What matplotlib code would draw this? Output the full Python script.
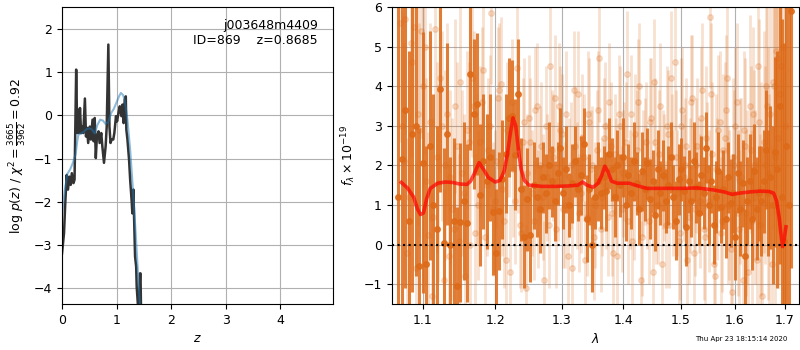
import numpy as np
import matplotlib
matplotlib.use("Agg")
import matplotlib.pyplot as plt
from matplotlib.ticker import FixedLocator, NullLocator, FixedFormatter

plt.rcParams['font.size'] = 9

# --- p(z) panel ---
z_chi = [0.0, 0.037, 0.06, 0.086, 0.11, 0.135, 0.16, 0.18, 0.21, 0.23, 0.26, 0.28, 0.29, 0.31,
         0.33, 0.35, 0.37, 0.39, 0.42, 0.44, 0.46, 0.48, 0.51, 0.53, 0.56, 0.58, 0.60, 0.62,
         0.64, 0.67, 0.69, 0.72, 0.74, 0.77, 0.80, 0.82, 0.85, 0.87, 0.89, 0.91, 0.94, 0.96,
         0.99, 1.01, 1.04, 1.06, 1.09, 1.11, 1.13, 1.15, 1.17, 1.18, 1.20, 1.23, 1.25, 1.28,
         1.29, 1.31, 1.32, 1.34, 1.36, 1.37, 1.39, 1.41, 1.43, 1.44, 1.45]
logp_chi = [-3.2, -2.73, -2.03, -1.38, -1.72, -1.42, -1.61, -1.34, -1.57, -1.49, 1.06, -0.41, 0.13, -0.41,
            0.17, -0.41, -0.26, -0.41, 0.39, -0.49, -0.29, -0.64, -0.26, -0.56, -0.10, -0.60, -0.06, -0.99,
            -0.49, -0.37, -0.64, -0.41, -0.72, -1.10, -0.72, -0.26, 1.64, -0.26, -0.64, -0.56, -0.56, -0.41,
            -0.02, -0.14, 0.09, 0.21, -0.02, 0.25, -0.18, 0.36, 0.44, -0.33, -0.56, -1.03, -1.49, -2.03,
            -2.27, -1.72, -2.27, -3.27, -3.5, -3.97, -4.35, -4.6, -3.66, -3.66, -4.6]

z_smooth = [0.0, 0.05, 0.10, 0.15, 0.20, 0.25, 0.28, 0.30, 0.35, 0.40, 0.45, 0.50, 0.55, 0.60,
            0.65, 0.70, 0.75, 0.80, 0.85, 0.90, 0.95, 1.00, 1.05, 1.08, 1.12, 1.15, 1.20, 1.25,
            1.30, 1.35, 1.40, 1.43]
logp_smooth = [-2.3, -1.75, -1.35, -1.25, -1.1, -0.9, -0.6, -0.45, -0.42, -0.38, -0.32, -0.3, -0.33, -0.42,
               -0.22, -0.1, -0.12, -0.2, -0.15, 0.05, 0.15, 0.3, 0.45, 0.52, 0.47, 0.35, -0.1, -0.8,
               -1.7, -2.7, -3.8, -4.4]

# --- spectrum panel ---
wave0_dark, dwave_dark = 1.068, 0.0046
flux_dark = [1.2, 2.15, 3.4, 0.6, 2.8, 3.0, -0.55, 2.07, -0.5, 2.5,
             1.0, 0.4, 3.93, 0.05, 2.8, 0.0, 0.6, -1.05, 0.56, 1.1,
             0.55, 4.3, 3.3, 3.55, 1.25, 2.1, 1.6, 2.2, 0.82, -0.2,
             0.85, 1.65, 2.3, 3.2, 3.25, 2.27, 3.8, 1.4, 0.2, 1.15,
             0.25, 1.5, 1.2, 0.9, 1.7, 1.3, 2.0, 1.6, 1.1, 1.8,
             2.45, 1.3, 1.9, 1.0, 1.55, 2.1, 1.4, 1.75, 2.55, 0.65,
             1.4, 0.0, 1.2, 1.6, 1.3, 1.7, 1.35, 2.3, 1.9, 1.2,
             2.0, 1.5, 2.2, 1.0, 1.75, 1.3, 2.1, 1.55, 0.9, 1.85,
             1.4, 2.05, 1.15, 1.6, 0.75, 1.9, 1.3, 1.75, 1.1, 1.5,
             2.2, 1.2, 0.6, 1.65, 1.9, 1.35, 0.45, 1.6, 1.1, 2.1,
             1.45, 0.8, 1.75, 1.3, 2.45, 1.0, 1.6, 0.5, 1.2, 1.85,
             0.95, 1.4, 0.65, 1.7, 1.05, 1.3, 0.2, 1.8, 0.9, 1.55,
             -0.3, 1.1, 1.6, 0.65, 1.85, 0.9, 1.3, 1.1, 1.6, 2.4,
             1.3, 1.7, 1.0, 2.35, 1.9, 3.5, 1.2, 0.1, 2.5, 1.0,
             5.9]
err_dark = [5.0, 4.8, 4.5, 4.3, 4.0, 3.8, 3.5, 3.3, 3.0, 2.9,
            2.8, 2.6, 2.6, 2.4, 2.3, 2.2, 2.1, 2.0, 2.0, 2.0,
            2.0, 1.9, 1.9, 1.8, 1.8, 1.7, 1.7, 1.6, 1.6, 1.6,
            1.5, 1.5, 1.5, 1.5, 1.4, 1.4, 1.4, 1.3, 1.3, 1.3,
            1.2, 1.1, 1.0, 1.1, 0.9, 1.0, 1.1, 0.9, 1.0, 0.8,
            1.0, 0.9, 1.1, 0.8, 1.0, 0.9, 0.8, 1.0, 0.9, 1.1,
            0.9, 1.2, 0.8, 1.0, 0.9, 0.8, 1.0, 0.9, 0.8, 1.0,
            0.9, 0.8, 1.0, 0.9, 0.8, 0.9, 1.0, 0.8, 0.9, 1.0,
            0.8, 0.9, 1.0, 0.8, 0.9, 1.0, 0.8, 0.9, 0.8, 1.0,
            0.9, 0.8, 1.0, 0.9, 0.8, 0.9, 1.0, 0.8, 0.9, 1.0,
            0.9, 0.8, 1.0, 0.9, 0.9, 1.0, 0.8, 1.0, 0.9, 1.0,
            0.9, 1.0, 1.0, 0.9, 1.1, 1.0, 1.1, 1.0, 1.2, 1.1,
            1.2, 1.1, 1.2, 1.3, 1.2, 1.3, 1.2, 1.4, 1.3, 1.5,
            1.6, 1.8, 2.0, 2.4, 3.0, 4.0, 4.5, 5.0, 5.5, 6.0,
            6.5]

# unbinned points, first orientation
wave0_light, dwave_light = 1.0703, 0.0046
flux_light = [5.6, 2.1, -0.2, 5.1, 5.5, 3.3, 5.4, 5.0, 0.25, -1.3,
              5.45, 1.55, 3.0, 2.0, -0.3, 0.9, 3.5, 0.1, 1.8, -0.8,
              2.6, 4.2, 0.3, 1.0, 3.6, 0.2, 2.4, 5.85, 1.1, 3.7,
              4.05, 0.6, 2.9, -0.7, 1.9, 4.45, 0.5, 2.6, -1.1, 3.2,
              1.3, 3.4, 0.9, 2.5, -0.9, 1.7, 4.5, 2.2, 0.4, 3.5,
              2.8, 1.0, -0.3, 2.0, 3.9, 1.5, 0.8, 2.7, -0.4, 3.3,
              1.9, 0.2, 2.4, 4.7, 1.2, 3.0, 0.7, 2.5, -0.2, 1.6,
              3.3, 0.9, 2.1, 4.3, 1.4, 0.1, 2.8, 3.6, -0.9, 1.8,
              2.6, 0.6, 3.2, 4.1, 1.0, 2.3, -0.5, 1.7, 3.0, 0.5,
              2.2, 4.6, 1.3, 0.3, 3.4, 2.0, -0.4, 1.5, 3.7, 0.9,
              2.5, 1.1, 3.9, 0.2, 1.9, 5.75, 2.3, -0.8, 1.4, 3.1,
              0.6, 2.7, 4.2, 1.0, -1.2, 2.0, 3.6, 0.4, 1.7, 2.9,
              0.8, -0.7, 2.4, 3.3, 1.2, 4.5, 0.5, -1.3, 2.0, 3.5,
              1.0, -0.5, 4.0, 4.9, 2.7, 4.5, 5.0, 3.0, 6.1]
err_light = [3.0, 3.0, 2.9, 2.9, 2.8, 2.8, 2.7, 2.7, 2.6, 2.6,
             2.5, 2.5, 2.4, 2.4, 2.3, 2.3, 2.2, 2.2, 2.1, 2.1,
             2.0, 2.0, 2.0, 1.9, 1.9, 1.9, 1.8, 1.8, 1.8, 1.8,
             1.7, 1.7, 1.7, 1.7, 1.7, 1.6, 1.6, 1.6, 1.6, 1.6,
             1.6, 1.6, 1.5, 1.6, 1.5, 1.6, 1.5, 1.6, 1.5, 1.6,
             1.5, 1.6, 1.5, 1.6, 1.5, 1.6, 1.5, 1.6, 1.5, 1.6,
             1.5, 1.6, 1.5, 1.6, 1.5, 1.6, 1.5, 1.6, 1.5, 1.6,
             1.5, 1.6, 1.5, 1.6, 1.5, 1.6, 1.5, 1.6, 1.5, 1.6,
             1.5, 1.6, 1.5, 1.6, 1.5, 1.6, 1.5, 1.6, 1.5, 1.6,
             1.6, 1.7, 1.6, 1.7, 1.6, 1.7, 1.6, 1.7, 1.6, 1.7,
             1.7, 1.7, 1.7, 1.7, 1.7, 1.8, 1.8, 1.8, 1.8, 1.8,
             1.8, 1.9, 1.9, 1.9, 1.9, 1.9, 2.0, 2.0, 2.0, 2.0,
             2.1, 2.1, 2.1, 2.2, 2.2, 2.3, 2.3, 2.4, 2.5, 2.6,
             2.8, 3.0, 3.2, 3.5, 3.8, 4.2, 4.6, 5.0, 5.5]

# unbinned points, second orientation
wave0_light2, dwave_light2 = 1.0726, 0.0046
flux_light2 = [3.0, 5.7, 1.2, 4.6, -0.6, 2.9, 4.0, 1.6, 3.1, 0.7,
               2.2, 4.2, -0.9, 3.3, 1.7, 0.4, 2.5, 4.1, 1.3, 2.9,
               0.0, 3.5, 1.9, 2.6, 4.4, 1.5, 3.0, 0.9, 2.1, 3.9,
               1.4, -0.4, 2.8, 3.6, 1.1, 2.4, 0.3, 3.1, 1.8, 2.6,
               0.6, 3.5, 2.0, 1.2, 3.0, 0.5, 2.4, 3.7, 1.6, 2.9,
               0.9, 3.3, 1.7, -0.6, 2.5, 3.8, 1.3, 2.2, 0.7, 3.1,
               2.0, 1.0, 3.4, 0.4, 2.7, 1.5, 3.6, 0.8, 2.3, -0.3,
               3.0, 1.8, 2.6, 0.6, 3.3, 1.2, 2.4, 4.0, 0.2, 2.1,
               1.4, 3.1, -0.7, 2.6, 1.0, 3.5, 1.9, 0.5, 2.8, 4.2,
               1.3, 2.2, 0.1, 3.0, 1.7, 2.5, 0.7, 3.6, -0.2, 2.0,
               1.5, 3.2, 0.4, 2.7, 1.1, 3.8, -0.5, 1.9, 2.9, 0.3,
               2.4, 3.4, 1.0, -0.1, 2.2, 3.0, 0.8, 1.6, -0.9, 2.5,
               1.2, 3.5, 0.6, 2.0, -0.4, 3.1, 1.4, 2.6, 4.0, 1.8,
               3.3, 4.1, 2.2, 4.7, 3.8]
err_light2 = [2.9, 2.9, 2.8, 2.8, 2.7, 2.7, 2.6, 2.6, 2.5, 2.5,
              2.4, 2.4, 2.3, 2.3, 2.2, 2.2, 2.1, 2.1, 2.0, 2.0,
              2.0, 1.9, 1.9, 1.9, 1.8, 1.8, 1.8, 1.7, 1.7, 1.7,
              1.7, 1.6, 1.6, 1.6, 1.6, 1.6, 1.5, 1.6, 1.5, 1.6,
              1.5, 1.6, 1.5, 1.6, 1.5, 1.6, 1.5, 1.6, 1.5, 1.6,
              1.5, 1.6, 1.5, 1.6, 1.5, 1.6, 1.5, 1.6, 1.5, 1.6,
              1.5, 1.6, 1.5, 1.6, 1.5, 1.6, 1.5, 1.6, 1.5, 1.6,
              1.5, 1.6, 1.5, 1.6, 1.5, 1.6, 1.5, 1.6, 1.5, 1.6,
              1.5, 1.6, 1.5, 1.6, 1.5, 1.6, 1.5, 1.6, 1.6, 1.7,
              1.6, 1.7, 1.6, 1.7, 1.6, 1.7, 1.7, 1.7, 1.7, 1.7,
              1.7, 1.8, 1.8, 1.8, 1.8, 1.8, 1.8, 1.9, 1.9, 1.9,
              1.9, 1.9, 2.0, 2.0, 2.0, 2.0, 2.1, 2.1, 2.1, 2.2,
              2.2, 2.3, 2.3, 2.4, 2.5, 2.6, 2.7, 2.8, 3.0, 3.2,
              3.4, 3.7, 4.0, 4.4, 4.8]

wave_model = [1.072, 1.08, 1.088, 1.093, 1.097, 1.101, 1.105, 1.11, 1.12, 1.13, 1.14, 1.15, 1.16,
              1.165, 1.17, 1.177, 1.184, 1.19, 1.2, 1.207, 1.213, 1.218, 1.222, 1.226, 1.23,
              1.234, 1.238, 1.243, 1.25, 1.27, 1.29, 1.31, 1.325, 1.333, 1.34, 1.35, 1.358,
              1.364, 1.369, 1.374, 1.38, 1.39, 1.41, 1.42, 1.44, 1.47, 1.50, 1.53, 1.56,
              1.58, 1.595, 1.61, 1.63, 1.65, 1.668, 1.677, 1.683, 1.688, 1.692, 1.695,
              1.698, 1.702]
flux_model = [1.57, 1.43, 1.2, 0.9, 0.76, 0.8, 1.15, 1.42, 1.55, 1.58, 1.57, 1.53, 1.52,
              1.6, 1.78, 2.07, 1.88, 1.7, 1.58, 1.62, 1.85, 2.3, 2.8, 3.2, 3.0,
              2.4, 1.9, 1.62, 1.5, 1.47, 1.47, 1.48, 1.5, 1.58, 1.5, 1.45, 1.55,
              1.75, 1.98, 1.85, 1.6, 1.55, 1.55, 1.5, 1.42, 1.42, 1.42, 1.43, 1.38,
              1.33, 1.27, 1.3, 1.33, 1.35, 1.34, 1.3, 1.1, 0.7, 0.25, -0.05,
              0.1, 0.45]

orange = '#dd6a18'

fig = plt.figure(figsize=(8, 3.5), dpi=100)
ax1 = fig.add_axes([62 / 800, 46 / 350, 271 / 800, 297 / 350])
ax2 = fig.add_axes([391.7 / 800, 46 / 350, 407.6 / 800, 297 / 350])

ax1.plot(z_chi, logp_chi, color='0.2', linewidth=1.8)
ax1.plot(z_smooth, logp_smooth, color='#1f77b4', alpha=0.5, linewidth=1.5)
ax1.set_xlim(0, 4.97)
ax1.set_ylim(-4.37, 2.51)
ax1.set_xticks([0, 1, 2, 3, 4])
ax1.set_yticks([-4, -3, -2, -1, 0, 1, 2])
ax1.grid(True)
ax1.set_xlabel(r'$z$')
ax1.set_ylabel(r'log $p(z)$ / $\chi^2=\frac{3665}{3962}=0.92$')
ax1.text(0.945, 0.96, 'j003648m4409\nID=869    z=0.8685', transform=ax1.transAxes,
         ha='right', va='top', fontsize=9)

wave_dark = wave0_dark + dwave_dark * np.arange(len(flux_dark))
wave_light = wave0_light + dwave_light * np.arange(len(flux_light))
wave_light2 = wave0_light2 + dwave_light2 * np.arange(len(flux_light2))

for w, f, e in [(wave_light, flux_light, err_light), (wave_light2, flux_light2, err_light2)]:
    ax2.errorbar(w, f, yerr=e, color=orange, alpha=0.2,
                 marker='o', markersize=4, linestyle='None', elinewidth=2.0)
ax2.errorbar(wave_dark, flux_dark, yerr=err_dark, color=orange, alpha=0.85,
             marker='o', markersize=4, linestyle='None', elinewidth=2.2)
ax2.plot(wave_model, flux_model, color='r', alpha=0.7, linewidth=2.6, zorder=5)
ax2.axhline(0, color='k', linestyle=':', linewidth=1.5, zorder=6)

ax2.set_xscale('log')
ax2.set_xlim(1.0597, 1.7295)
ax2.set_ylim(-1.5, 6)
ticks = [1.1, 1.2, 1.3, 1.4, 1.5, 1.6, 1.7]
ax2.xaxis.set_major_locator(FixedLocator(ticks))
ax2.xaxis.set_major_formatter(FixedFormatter(['%.1f' % t for t in ticks]))
ax2.xaxis.set_minor_locator(NullLocator())
ax2.set_yticks([-1, 0, 1, 2, 3, 4, 5, 6])
ax2.grid(True)
ax2.set_xlabel(r'$\lambda$')
ax2.set_ylabel(r'$f_\lambda \times 10^{-19}$')

fig.text(0.927, 0.031, 'Thu Apr 23 18:15:14 2020', fontsize=5, ha='center', va='center')

fig.savefig('out.png', dpi=100)
